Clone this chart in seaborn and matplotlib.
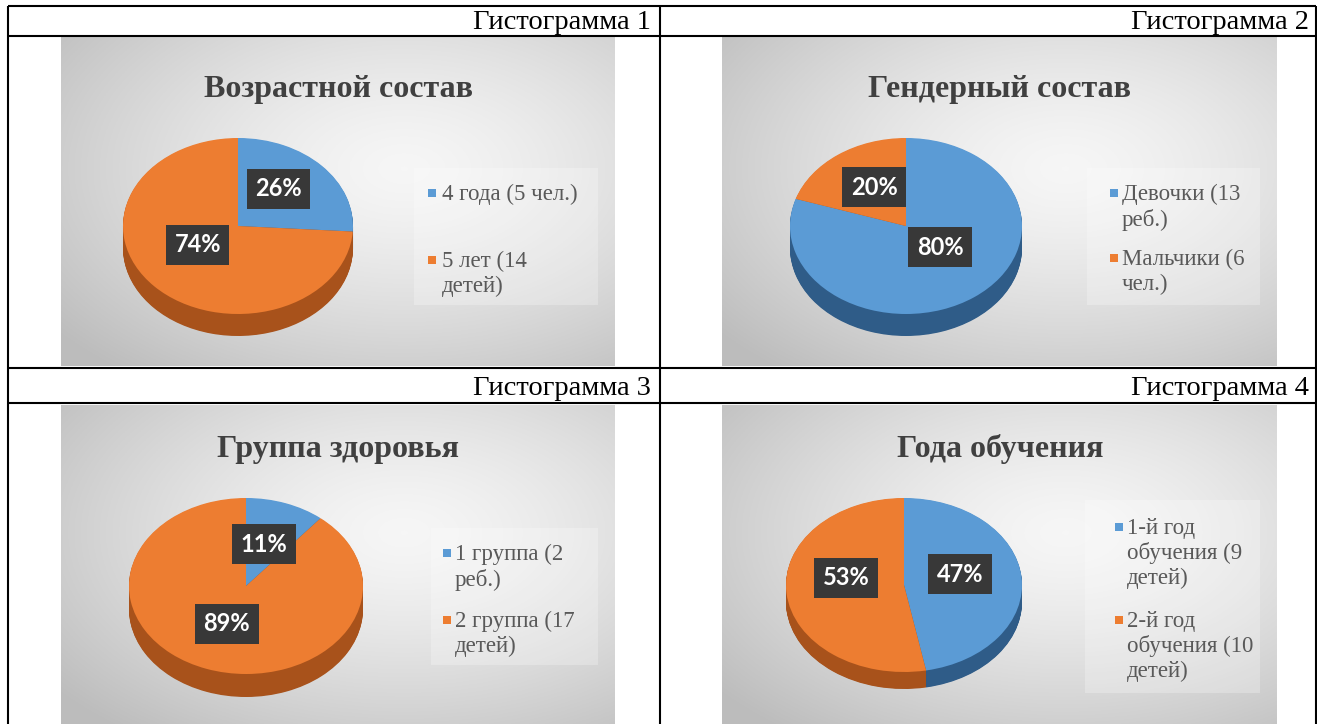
import numpy as np
import matplotlib
matplotlib.use("Agg")
import matplotlib.pyplot as plt
from matplotlib.patches import Rectangle
import seaborn as sns

W, H = 1317, 724

# --- data ---
captions = ["Гистограмма 1", "Гистограмма 2", "Гистограмма 3", "Гистограмма 4"]
titles = ["Возрастной состав", "Гендерный состав", "Группа здоровья", "Года обучения"]
shares_age = [26, 74]
shares_gender = [80, 20]
shares_health = [11, 89]
shares_year = [47, 53]
legend_age = ["4 года (5 чел.)", "5 лет (14\nдетей)"]
legend_gender = ["Девочки (13\nреб.)", "Мальчики (6\nчел.)"]
legend_health = ["1 группа (2\nреб.)", "2 группа (17\nдетей)"]
legend_year = ["1-й год\nобучения (9\nдетей)", "2-й год\nобучения (10\nдетей)"]

sns.set_theme(style="white")
plt.rcParams['font.family'] = ['Liberation Serif', 'DejaVu Serif']
top_colors = sns.color_palette(["#5B9BD5", "#ED7D31"])
side_colors = sns.color_palette(["#2F5C88", "#A8521B"])

# layout in pixels (x from left, y from top)
charts = [
    dict(shares=shares_age, legend=legend_age, title=titles[0], bg=(61, 37, 615, 366),
         title_xy=(338, 89), pie=(238, 226, 115, 88, 22), dist=[0.55, 0.41], nudge=[-7, 12],
         box=(414, 168, 598, 305), mark_x=432, text_x=442, entry_y=[193, 260]),
    dict(shares=shares_gender, legend=legend_gender, title=titles[1], bg=(722, 37, 1277, 366),
         title_xy=(1000, 89), pie=(906, 226, 116, 88, 22), dist=[0.38, 0.52], nudge=[-15, 4],
         box=(1087, 168, 1260, 305), mark_x=1114, text_x=1122, entry_y=[193, 258]),
    dict(shares=shares_health, legend=legend_health, title=titles[2], bg=(61, 405, 615, 724),
         title_xy=(338, 449), pie=(246, 586, 117, 88, 23), dist=[0.50, 0.46], nudge=[-2, 1],
         box=(431, 528, 598, 665), mark_x=447, text_x=455, entry_y=[553, 620]),
    dict(shares=shares_year, legend=legend_year, title=titles[3], bg=(722, 405, 1277, 724),
         title_xy=(1000, 449), pie=(904, 585, 118, 87, 17), dist=[0.49, 0.50], nudge=[-9, 15],
         box=(1085, 500, 1260, 693), mark_x=1119, text_x=1127, entry_y=[527, 620]),
]

fig = plt.figure(figsize=(W / 100, H / 100), dpi=100)
fig.patch.set_facecolor('white')


def px_rect(x0, y0, x1, y1):
    return [x0 / W, 1 - y1 / H, (x1 - x0) / W, (y1 - y0) / H]


# soft radial grey background like the office chart style
gy, gx = np.mgrid[0:1:240j, 0:1:320j]
rr = np.sqrt(((gx - 0.62) / 0.8) ** 2 + ((gy - 0.40) / 0.8) ** 2)
tt = np.clip(rr, 0, 1) ** 1.4
light = np.array([0.965, 0.965, 0.965])
dark = np.array([0.74, 0.74, 0.74])
grad = light + (dark - light) * tt[..., None]

L = 1.35
for ch in charts:
    bg_ax = fig.add_axes(px_rect(*ch['bg']), zorder=0)
    bg_ax.imshow(grad, extent=[0, 1, 0, 1], aspect='auto', origin='upper')
    bg_ax.set_axis_off()

    cx, cy, rx, ry, depth = ch['pie']
    pie_ax = fig.add_axes(px_rect(cx - L * rx, cy - L * ry, cx + L * rx, cy + L * ry), zorder=1)
    pie_ax.patch.set_alpha(0)
    d = depth / ry
    n = 30
    for k in range(n):
        off = -d * (1 - k / n)
        pie_ax.pie(ch['shares'], colors=side_colors, startangle=90, counterclock=False,
                   center=(0, off), wedgeprops=dict(linewidth=0))
    wedges, _ = pie_ax.pie(ch['shares'], colors=top_colors, startangle=90, counterclock=False,
                           wedgeprops=dict(linewidth=0))
    pie_ax.set_aspect('auto')
    pie_ax.set_xlim(-L, L)
    pie_ax.set_ylim(-L, L)
    pie_ax.set_axis_off()

    for w, v, dist, nd in zip(wedges, ch['shares'], ch['dist'], ch['nudge']):
        mid_cw = np.deg2rad(90 - (w.theta1 + w.theta2) / 2 + nd)
        pie_ax.text(dist * np.sin(mid_cw), dist * np.cos(mid_cw), f"{v}%",
                    ha='center', va='center', color='white', fontsize=17,
                    fontweight='bold', family=['Lato', 'DejaVu Sans'],
                    bbox=dict(boxstyle='square,pad=0.36', fc='#383838', ec='none'))

# overlay in pixel coordinates: titles, legends, table grid
ov = fig.add_axes([0, 0, 1, 1], zorder=5)
ov.patch.set_alpha(0)
ov.set_xlim(0, W)
ov.set_ylim(H, 0)
ov.set_axis_off()

for ch in charts:
    tx, ty = ch['title_xy']
    ov.text(tx, ty, ch['title'], ha='center', va='center', fontsize=23,
            fontweight='bold', color='#404040')
    x0, y0, x1, y1 = ch['box']
    ov.add_patch(Rectangle((x0, y0), x1 - x0, y1 - y0, fc='white', ec='none', alpha=0.25))
    for lab, ey, col in zip(ch['legend'], ch['entry_y'], top_colors):
        ov.add_patch(Rectangle((ch['mark_x'] - 4, ey - 4), 8, 8, fc=col, ec='none'))
        ov.text(ch['text_x'], ey - 9, lab, ha='left', va='top', fontsize=16.5,
                color='#595959', linespacing=1.2)

# table grid
lw = 1.5
ov.hlines([6, 36, 368, 403], 8, 1316, color='black', lw=lw)
ov.vlines([8, 660, 1316], 6, H, color='black', lw=lw)
for cap, (x, y) in zip(captions, [(651, 29), (1309, 29), (651, 395), (1309, 395)]):
    ov.text(x, y, cap, ha='right', va='baseline', fontsize=20.5, color='black')

fig.savefig("out.png", dpi=100)
